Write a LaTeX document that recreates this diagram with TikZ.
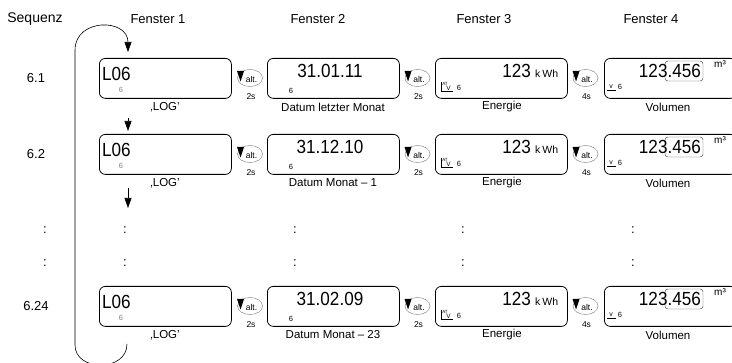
\documentclass[tikz,border=0pt]{standalone}
\usepackage{fontspec}
\setmainfont{Liberation Sans}
\newfontfamily\segfont{Liberation Sans}[FakeStretch=0.9]
\usetikzlibrary{arrows.meta,calc}
\tikzset{
  disp/.style={draw, rounded corners=6pt, line width=0.8pt, minimum width=132pt, minimum height=40pt, anchor=north west, inner sep=0pt},
  lbl/.style={font=\fontsize{11.5}{12}\selectfont, inner sep=0pt},
  ttl/.style={font=\fontsize{13}{14}\selectfont, inner sep=0pt},
  rowl/.style={font=\fontsize{13}{14}\selectfont, inner sep=0pt},
  seg/.style={font=\segfont\fontsize{19}{19}\selectfont, inner sep=0pt},
  smallsym/.style={font=\fontsize{7.5}{8}\selectfont, inner sep=0pt},
  arr/.style={-{Triangle[width=7pt,length=10pt]}, line width=0.6pt},
  btnring/.style={draw=gray, line width=0.45pt},
  btntxt/.style={font=\fontsize{8.5}{9}\selectfont, inner sep=0pt},
}
\newcommand\altbtn[4]{% name, x, y, time
  \node[inner sep=0pt, minimum width=26pt, minimum height=17pt] (#1) at (#2,#3) {};
  \draw[btnring] (#1.center) ellipse [x radius=12.5pt, y radius=8.5pt];
  \fill ($(#1.center)+(-13,-7)$) -- ($(#1.center)+(-6,-7)$) -- ($(#1.center)+(-9.5,3.5)$) -- cycle;
  \node[btntxt] at ($(#1.center)+(1.5,1.5)$) {alt.};
  \node[btntxt] at ($(#1.center)+(1,18.5)$) {#4};
}
\newcommand\drow[5]{% id, y0, row label, date, caption 2
  \node[rowl] (lab#1) at (36,#2+20) {#3};
  \node[disp] (a#1) at (99,#2) {};
  \node[disp] (b#1) at (267,#2) {};
  \node[disp] (c#1) at (435,#2) {};
  \node[disp] (d#1) at (604,#2) {};
  % display 1
  \node[seg, anchor=west] (a#1t) at (102,#2+16) {L06};
  \node[smallsym, text=gray] (a#1s) at (121,#2+32) {6};
  \node[lbl] (a#1c) at (165,#2+49) {‚LOG’};
  % display 2
  \node[seg] (b#1t) at (330,#2+13) {#4};
  \node[smallsym] (b#1s) at (291,#2+33) {6};
  \node[lbl] (b#1c) at (333,#2+49) {#5};
  % display 3
  \node[seg, anchor=east] (c#1t) at (531,#2+13) {123};
  \node[font=\fontsize{10.5}{11}\selectfont, inner sep=0pt, anchor=base west] (c#1u) at (535,#2+20) {k\hspace{2pt}Wh};
  \draw[line width=0.4pt] (441,#2+24) -- (441,#2+33) -- (453,#2+33);
  \node[font=\fontsize{4.5}{5}\selectfont, inner sep=0pt] (c#1a) at (445,#2+26) {AT};
  \node[font=\fontsize{6.5}{7}\selectfont, inner sep=0pt] (c#1v) at (448.5,#2+30) {V};
  \node[smallsym] (c#1s) at (459,#2+30) {6};
  \node[lbl] (c#1c) at (502,#2+49) {Energie};
  % display 4
  \draw[gray!60!black, line width=0.45pt, rounded corners=3pt] (665,#2+3) rectangle (703,#2+23);
  \node[seg, anchor=east] (d#1t) at (701,#2+13) {123.456};
  \node[font=\fontsize{10}{10}\selectfont, inner sep=0pt] (d#1m) at (720,#2+6) {m³};
  \node[font=\fontsize{7}{7}\selectfont, inner sep=0pt] (d#1v) at (611,#2+29) {v};
  \draw[line width=0.4pt] (607,#2+32.5) -- (616,#2+32.5);
  \node[smallsym] (d#1s) at (620,#2+29) {6};
  \node[lbl] (d#1c) at (668,#2+49) {Volumen};
  % buttons
  \altbtn{p#1}{250}{#2+20}{2s}
  \altbtn{q#1}{417.5}{#2+20}{2s}
  \altbtn{r#1}{585.5}{#2+20}{4s}
}
\begin{document}
\begin{tikzpicture}[x=1pt,y=-1pt]
\useasboundingbox (0,0) rectangle (732,363);
\clip (0,0) rectangle (732,363);
% titles
\node[ttl, font=\fontsize{14}{15}\selectfont] (tseq) at (35,19) {Sequenz};
\node[ttl] (tf1) at (158,19) {Fenster 1};
\node[ttl] (tf2) at (318,19) {Fenster 2};
\node[ttl] (tf3) at (484,19) {Fenster 3};
\node[ttl] (tf4) at (651,19) {Fenster 4};
% rows
\drow{1}{58}{6.1}{31.01.11}{Datum letzter Monat}
\drow{2}{134}{6.2}{31.12.10}{Datum Monat – 1}
\drow{3}{286}{6.24}{31.02.09}{Datum Monat – 23}
% ellipsis rows
\foreach \yy/\k in {230/1,263/2}{
  \node[rowl] (c0\k) at (45,\yy) {:};
  \node[rowl] (c1\k) at (125,\yy) {:};
  \node[rowl] (c2\k) at (295,\yy) {:};
  \node[rowl] (c3\k) at (463,\yy) {:};
  \node[rowl] (c4\k) at (633,\yy) {:};
}
% down arrows
\coordinate (s1) at (128,118);
\coordinate (t1) at (128,131);
\draw[arr] (s1) -- (t1);
\coordinate (s2) at (128,188);
\coordinate (t2) at (128,208);
\draw[arr] (s2) -- (t2);
% loop
\coordinate (lb) at (127,344);
\coordinate (ll) at (75,345);
\coordinate (lt) at (75,50);
\coordinate (tt) at (128,52);
\draw[arr] (lb) .. controls (127,372) and (75,372) .. (ll) -- (lt) .. controls (75,18) and (128,18) .. (tt);
\end{tikzpicture}
\end{document}
